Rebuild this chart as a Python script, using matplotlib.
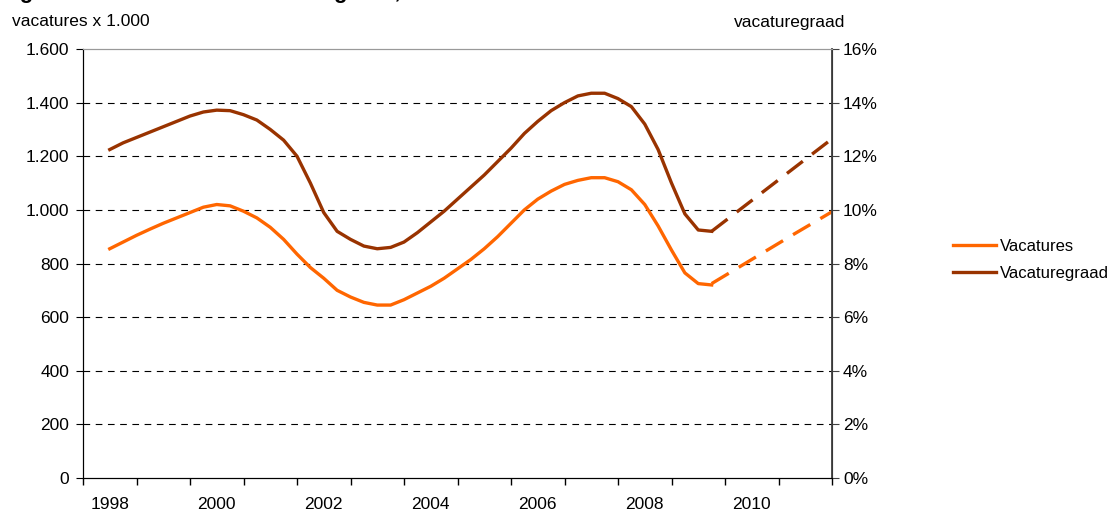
import numpy as np
import matplotlib
matplotlib.use('Agg')
import matplotlib.pyplot as plt
from matplotlib.ticker import FuncFormatter

plt.rcParams['font.family'] = ['Liberation Sans', 'DejaVu Sans']

# kwartaalcijfers (tijd in jaren), vacatures x 1.000 en vacaturegraad (%)
t = [1998.5, 1998.75, 1999.0, 1999.25, 1999.5, 1999.75, 2000.0, 2000.25, 2000.5, 2000.75,
     2001.0, 2001.25, 2001.5, 2001.75, 2002.0, 2002.25, 2002.5, 2002.75, 2003.0, 2003.25,
     2003.5, 2003.75, 2004.0, 2004.25, 2004.5, 2004.75, 2005.0, 2005.25, 2005.5, 2005.75,
     2006.0, 2006.25, 2006.5, 2006.75, 2007.0, 2007.25, 2007.5, 2007.75, 2008.0, 2008.25,
     2008.5, 2008.75, 2009.0, 2009.25, 2009.5, 2009.75]
vacatures = [855, 880, 905, 928, 950, 970, 990, 1010, 1020, 1015,
             995, 970, 935, 890, 835, 785, 745, 700, 675, 655,
             645, 645, 665, 690, 715, 745, 780, 815, 855, 900,
             950, 1000, 1040, 1070, 1095, 1110, 1120, 1120, 1105, 1075,
             1020, 940, 850, 765, 725, 720]
graad = [12.25, 12.5, 12.7, 12.9, 13.1, 13.3, 13.5, 13.65, 13.72, 13.7,
         13.55, 13.35, 13.0, 12.6, 12.0, 11.0, 9.9, 9.2, 8.9, 8.65,
         8.55, 8.6, 8.8, 9.15, 9.55, 9.95, 10.4, 10.85, 11.3, 11.8,
         12.3, 12.85, 13.3, 13.7, 14.0, 14.25, 14.35, 14.35, 14.15, 13.85,
         13.2, 12.25, 11.0, 9.85, 9.25, 9.2]

# prognose
t_prog = [2009.75, 2010.5, 2011.25, 2012.0]
vacatures_prog = [725, 815, 905, 993]
graad_prog = [9.2, 10.35, 11.5, 12.65]

jaren = list(range(1998, 2013))
jaar_labels = [1998, 2000, 2002, 2004, 2006, 2008, 2010]

oranje = '#FF6600'
bruin = '#993300'
fs = 12.5

fig = plt.figure(figsize=(11.19, 5.12), dpi=100)
ax = fig.add_axes([83/1119, 34/512, 749/1119, 429/512])
ax2 = ax.twinx()

ax.plot(t, vacatures, color=oranje, lw=2.4, label='Vacatures')
ax2.plot(t, graad, color=bruin, lw=2.4, label='Vacaturegraad')
ax.plot(t_prog, vacatures_prog, color=oranje, lw=2.4, dashes=(6, 3.5))
ax2.plot(t_prog, graad_prog, color=bruin, lw=2.4, dashes=(6, 3.5))

ax.set_xlim(1998, 2012)
ax.set_ylim(0, 1600)
ax2.set_ylim(0, 16)

ax.set_yticks(range(0, 1601, 200))
ax.yaxis.set_major_formatter(FuncFormatter(lambda v, p: f'{int(v):,}'.replace(',', '.')))
ax2.set_yticks(range(0, 17, 2))
ax2.yaxis.set_major_formatter(FuncFormatter(lambda v, p: f'{int(v)}%'))

ax.set_xticks(jaren)
ax.set_xticklabels([])
ax.set_xticks([j + 0.5 for j in jaar_labels], minor=True)
ax.set_xticklabels([str(j) for j in jaar_labels], minor=True)
ax.tick_params(axis='x', which='minor', length=0, pad=14, labelsize=fs)
ax.tick_params(axis='x', which='major', length=5, width=1, direction='out')
ax.tick_params(axis='y', length=5, direction='out', labelsize=fs, pad=5)
ax2.tick_params(axis='y', length=5, direction='out', labelsize=fs, pad=3, color='#404040')

for y in range(200, 1600, 200):
    ax.axhline(y, color='black', lw=0.8, dashes=(6, 5), zorder=0)

ax.spines['top'].set_color('#999999')
ax2.spines['top'].set_color('#999999')
ax.spines['left'].set_color('black')
ax2.spines['right'].set_color('#404040')
ax2.spines['right'].set_linewidth(1.3)

h1, l1 = ax.get_legend_handles_labels()
h2, l2 = ax2.get_legend_handles_labels()
fig.legend(h1 + h2, l1 + l2, loc='center left', bbox_to_anchor=(953/1119, 1 - 260/512),
           frameon=False, fontsize=12, handlelength=2.6, handletextpad=0.2, labelspacing=0.75,
           borderpad=0, borderaxespad=0)

fig.text(12/1119, 1 - 22/512, 'vacatures x 1.000', fontsize=fs, va='center', ha='left')
fig.text(845/1119, 1 - 22/512, 'vacaturegraad', fontsize=fs, va='center', ha='right')
fig.text(0/1119, 1 + 2/512, 'Figuur 1  Vacatures en vacaturegraad, 1998-2011', fontsize=16,
         fontweight='bold', va='baseline', ha='left')

fig.savefig('out.png', dpi=100)
